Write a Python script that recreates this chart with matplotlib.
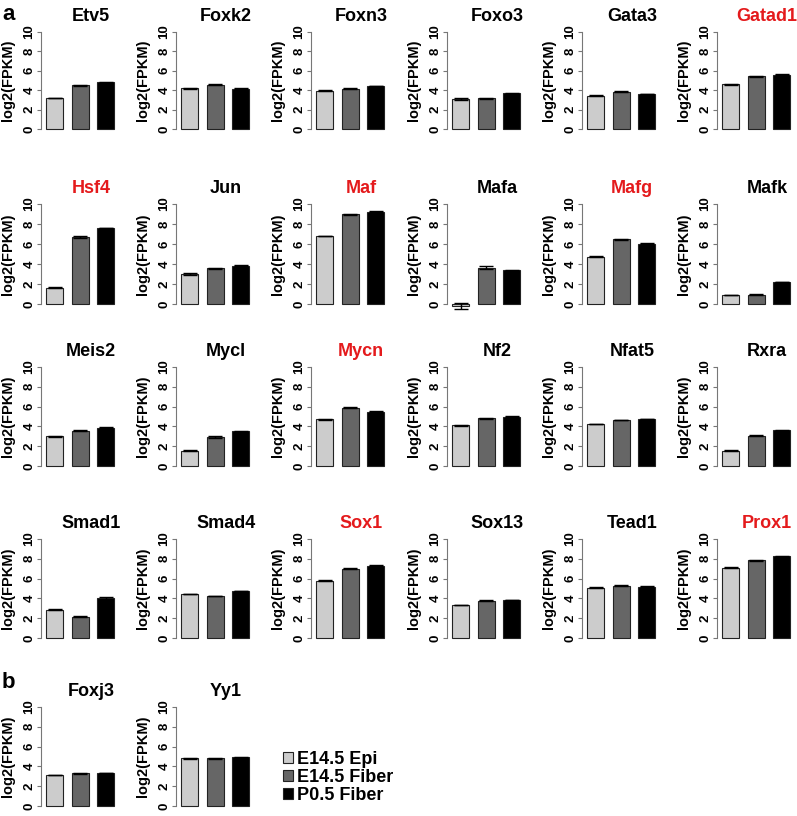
import matplotlib.pyplot as plt
import numpy as np

plt.rcParams['font.family'] = ['Liberation Sans', 'DejaVu Sans']
plt.rcParams['font.weight'] = 'bold'

genes = ["Etv5", "Foxk2", "Foxn3", "Foxo3", "Gata3", "Gatad1",
         "Hsf4", "Jun", "Maf", "Mafa", "Mafg", "Mafk",
         "Meis2", "Mycl", "Mycn", "Nf2", "Nfat5", "Rxra",
         "Smad1", "Smad4", "Sox1", "Sox13", "Tead1", "Prox1",
         "Foxj3", "Yy1"]
red_genes = ["Gatad1", "Hsf4", "Maf", "Mafg", "Mycn", "Sox1", "Prox1"]

epi_e145 = [3.2, 4.2, 3.95, 3.05, 3.45, 4.6,
            1.65, 3.0, 6.8, -0.2, 4.75, 0.9,
            3.0, 1.55, 4.7, 4.1, 4.25, 1.55,
            2.85, 4.45, 5.8, 3.35, 5.1, 7.1,
            3.15, 4.8]
fiber_e145 = [4.5, 4.55, 4.15, 3.15, 3.85, 5.45,
              6.7, 3.6, 9.0, 3.65, 6.5, 0.95,
              3.55, 2.9, 5.9, 4.8, 4.65, 3.05,
              2.15, 4.25, 7.0, 3.75, 5.3, 7.85,
              3.3, 4.8]
fiber_p05 = [4.8, 4.15, 4.45, 3.7, 3.6, 5.6,
             7.6, 3.85, 9.25, 3.4, 6.05, 2.2,
             3.85, 3.5, 5.5, 5.0, 4.75, 3.6,
             4.0, 4.75, 7.3, 3.85, 5.2, 8.25,
             3.35, 4.9]
err_epi = [0.03, 0.03, 0.05, 0.1, 0.05, 0.03,
           0.06, 0.12, 0.03, 0.3, 0.03, 0.04,
           0.05, 0.03, 0.06, 0.03, 0.04, 0.05,
           0.03, 0.03, 0.03, 0.03, 0.04, 0.03,
           0.03, 0.03]
err_fib = [0.05, 0.05, 0.05, 0.03, 0.05, 0.05,
           0.08, 0.05, 0.05, 0.12, 0.05, 0.06,
           0.05, 0.08, 0.08, 0.03, 0.03, 0.05,
           0.05, 0.03, 0.06, 0.05, 0.05, 0.05,
           0.05, 0.03]
err_p05 = [0.03, 0.03, 0.03, 0.05, 0.03, 0.05,
           0.03, 0.03, 0.03, 0.05, 0.03, 0.03,
           0.05, 0.05, 0.03, 0.03, 0.03, 0.03,
           0.15, 0.03, 0.05, 0.03, 0.03, 0.03,
           0.03, 0.03]

labels = ["E14.5 Epi", "E14.5 Fiber", "P0.5 Fiber"]
colors = ["#cccccc", "#666666", "#000000"]

W, H = 797, 816
row_top = [32, 204, 367, 539, 707]
row_bot = [129, 304, 466, 638, 806]
col_left = [41, 176, 311, 447, 582, 717]
ax_w = 100
px_unit = 17.0

fig = plt.figure(figsize=(W / 100, H / 100), dpi=100)

xs = np.array([1.0, 2.5, 4.0])
x0 = 0.5 - 5 / px_unit

for i, g in enumerate(genes):
    r, c = (i // 6, i % 6) if i < 24 else (4, i - 24)
    left = col_left[c] / W
    bottom = 1 - row_bot[r] / H
    height = (row_bot[r] - row_top[r]) / H
    ax = fig.add_axes([left, bottom, ax_w / W, height])
    vals = [epi_e145[i], fiber_e145[i], fiber_p05[i]]
    errs = [err_epi[i], err_fib[i], err_p05[i]]
    ax.bar(xs, vals, width=1.0, color=colors, edgecolor="#222222",
           linewidth=0.8, clip_on=False)
    ax.errorbar(xs, vals, yerr=errs, fmt="none", ecolor="black",
                elinewidth=1, capsize=5, capthick=1, clip_on=False)
    ax.set_xlim(x0, x0 + ax_w / px_unit)
    ax.set_ylim(0, 10)
    ax.set_yticks([0, 2, 4, 6, 8, 10])
    ax.set_yticklabels(["0", "2", "4", "6", "8", "10"], rotation=90,
                       va="center", fontsize=9.5, fontweight="bold")
    ax.tick_params(axis="y", length=3, width=0.8, color="#777777", pad=1)
    ax.set_xticks([])
    for s in ["top", "right", "bottom"]:
        ax.spines[s].set_visible(False)
    ax.spines["left"].set_color("#777777")
    ax.spines["left"].set_linewidth(0.8)
    ax.set_ylabel("log2(FPKM)", fontsize=10.5, fontweight="bold", va="center")
    ax.yaxis.set_label_coords(-0.33, 0.5)
    ax.set_title(g, fontsize=13, fontweight="bold", pad=8,
                 color="#e41a1c" if g in red_genes else "black")

fig.text(2 / W, 1 - 20 / H, "a", fontsize=16, fontweight="bold", va="baseline")
fig.text(2 / W, 1 - 688 / H, "b", fontsize=16, fontweight="bold", va="baseline")

handles = [plt.Rectangle((0, 0), 1, 1, facecolor=col, edgecolor="#222222", linewidth=0.8)
           for col in colors]
fig.legend(handles, labels, loc="upper left", bbox_to_anchor=(283 / W, 1 - 751 / H),
           frameon=False, prop={"weight": "bold", "size": 13},
           handlelength=0.55, handleheight=0.6, handletextpad=0.2,
           labelspacing=0.05, borderpad=0, borderaxespad=0)

fig.savefig("out.png", dpi=100)
